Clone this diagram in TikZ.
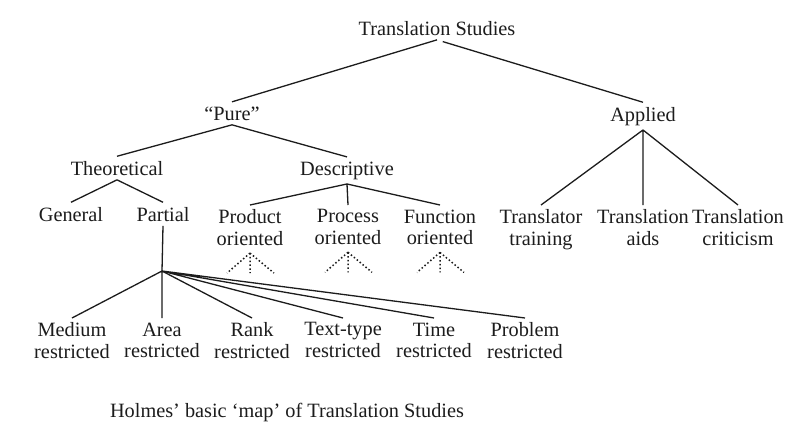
\documentclass[tikz,border=0pt]{standalone}
\usepackage{fontspec}
\setmainfont{Liberation Serif}
\definecolor{ink}{RGB}{28,28,28}
\newcommand{\fan}[1]{\draw[fanline] ([yshift=-3pt]#1.south) -- +(-23,20) ([yshift=-3pt]#1.south) -- +(0,20) ([yshift=-3pt]#1.south) -- +(24,20);}

\begin{document}
\begin{tikzpicture}[x = 1pt, y = -1pt, ink, line width = 1.3pt,
  lbl/.style = {inner xsep = 0pt, inner ysep = 4pt, align = center, text = ink, font = \fontsize{20.3}{21.5}\selectfont},
  fanline/.style = {line width = 1.5pt, dash pattern = on 1.5pt off 2.3pt}]
\useasboundingbox[fill = white] (0,0) rectangle (792,423);
\node[lbl, anchor = base] (ts) at (437,35) {Translation Studies};
\node[lbl, anchor = base] (pure) at (232,120) {“Pure”};
\node[lbl, anchor = base] (appl) at (643,121) {Applied};
\node[lbl, anchor = base] (theo) at (117,175) {Theoretical};
\node[lbl, anchor = base] (desc) at (347,175) {Descriptive};
\node[lbl, anchor = base] (gen) at (71,221) {General};
\node[lbl, anchor = base] (part) at (163,221) {Partial};
\node[lbl, anchor = north] (prod) at (250,205) {Product\\oriented};
\node[lbl, anchor = north] (proc) at (348,205) {Process\\oriented};
\node[lbl, anchor = north] (func) at (440,205) {Function\\oriented};
\node[lbl, anchor = north] (trn) at (541,205) {Translator\\training};
\node[lbl, anchor = north] (aids) at (643,205) {Translation\\aids};
\node[lbl, anchor = north] (crit) at (738,205) {Translation\\criticism};
\coordinate (hub) at (162,271);
\node[lbl, anchor = north] (med) at (72,318) {Medium\\restricted};
\node[lbl, anchor = north] (area) at (162,318) {Area\\restricted};
\node[lbl, anchor = north] (rank) at (252,318) {Rank\\restricted};
\node[lbl, anchor = north] (text) at (343,318) {Text-type\\restricted};
\node[lbl, anchor = north] (time) at (434,318) {Time\\restricted};
\node[lbl, anchor = north] (prob) at (525,318) {Problem\\restricted};
\node[lbl, anchor = base] (cap) at (287,417) {Holmes’ basic ‘map’ of Translation Studies};
\draw[shorten <= 6pt] (ts.south) -- (pure.north) (ts.south) -- (appl.north);
\draw (pure.south) -- (theo.north) (pure.south) -- (desc.north);
\draw (appl.south) -- (trn.north) (appl.south) -- (aids.north) (appl.south) -- (crit.north);
\draw (theo.south) -- (gen.north) (theo.south) -- (part.north);
\draw (desc.south) -- (prod.north) (desc.south) -- (proc.north) (desc.south) -- (func.north);
\fan{prod} \fan{proc} \fan{func}
\draw (part.south) -- (hub);
\draw (hub) -- (med.north) (hub) -- (area.north) (hub) -- (rank.north);
\draw (hub) -- (text.north) (hub) -- (time.north) (hub) -- (prob.north);
\end{tikzpicture}
\end{document}
